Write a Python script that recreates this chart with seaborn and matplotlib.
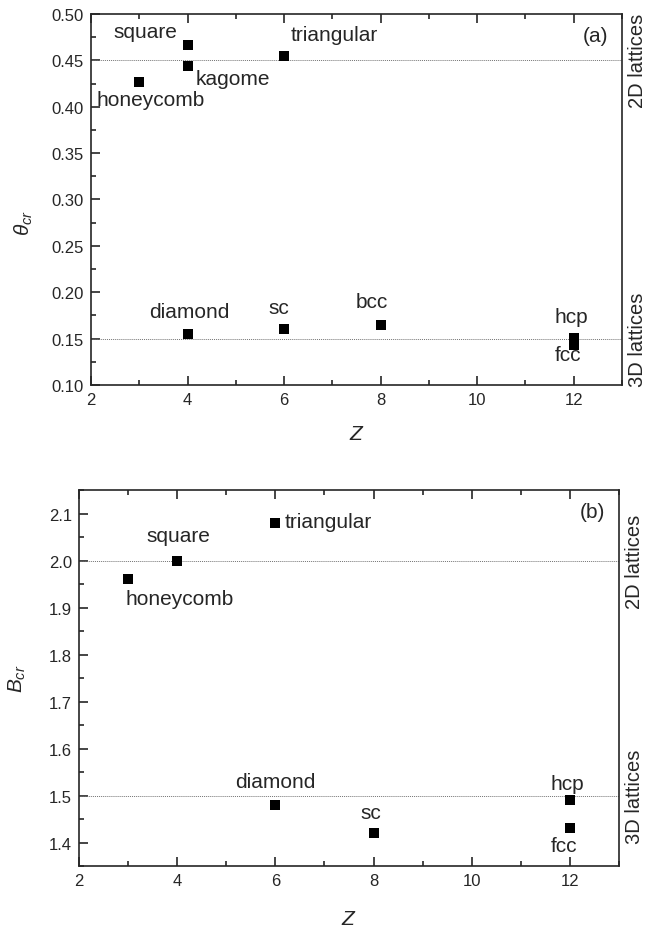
import matplotlib
matplotlib.use("Agg")
import matplotlib.pyplot as plt
import seaborn as sns
import pandas as pd
from matplotlib.ticker import MultipleLocator, FormatStrFormatter

# panel (a): critical coverage vs coordination number
lattices_a = ["honeycomb", "square", "kagome", "triangular", "diamond", "sc", "bcc", "hcp", "fcc"]
z_a = [3, 4, 4, 6, 4, 6, 8, 12, 12]
theta_a = [0.427, 0.466, 0.444, 0.455, 0.155, 0.160, 0.165, 0.151, 0.143]

# panel (b): critical B vs coordination number
lattices_b = ["honeycomb", "square", "triangular", "diamond", "sc", "hcp", "fcc"]
z_b = [3, 4, 6, 6, 8, 12, 12]
b_b = [1.96, 2.00, 2.08, 1.48, 1.42, 1.49, 1.43]

# label offsets in points (dx, dy, ha)
offsets_a = {
    "honeycomb": (8, -13, "center"),
    "square": (-30, 10, "center"),
    "kagome": (33, -9, "center"),
    "triangular": (36, 15, "center"),
    "diamond": (1, 16, "center"),
    "sc": (-4, 16, "center"),
    "bcc": (-6, 17, "center"),
    "hcp": (-2, 15, "center"),
    "fcc": (-4, -7, "center"),
}
offsets_b = {
    "honeycomb": (37, -14, "center"),
    "square": (1, 18, "center"),
    "triangular": (7, 1, "left"),
    "diamond": (0, 17, "center"),
    "sc": (-2, 15, "center"),
    "hcp": (-2, 12, "center"),
    "fcc": (-4, -12, "center"),
}

sns.set_style("ticks")
plt.rcParams["font.family"] = ["Liberation Sans", "DejaVu Sans"]
plt.rcParams["mathtext.fontset"] = "custom"
plt.rcParams["mathtext.it"] = "Liberation Sans:italic"
plt.rcParams["mathtext.rm"] = "Liberation Sans"


def draw_panel(ax, df, ycol, offsets, ylim, ymajor, yminor, ref_lines, tag, ylabel):
    sns.scatterplot(data=df, x="Z", y=ycol, marker="s", color="black", s=42,
                    linewidth=0, ax=ax, legend=False, zorder=3)
    for _, row in df.iterrows():
        dx, dy, ha = offsets[row["lattice"]]
        ax.annotate(row["lattice"], (row["Z"], row[ycol]), xytext=(dx, dy),
                    textcoords="offset points", ha=ha, va="center", fontsize=15)
    for y in ref_lines:
        ax.axhline(y, color="0.45", ls=(0, (1, 1)), lw=0.7, zorder=1)
    ax.set_xlim(2, 13)
    ax.set_ylim(*ylim)
    ax.xaxis.set_major_locator(MultipleLocator(2))
    ax.xaxis.set_minor_locator(MultipleLocator(1))
    ax.yaxis.set_major_locator(MultipleLocator(ymajor))
    ax.yaxis.set_minor_locator(MultipleLocator(yminor))
    ax.tick_params(which="both", direction="in", top=True, right=True, width=1.2,
                   labelsize=12, pad=5)
    ax.tick_params(which="major", length=6.5)
    ax.tick_params(which="minor", length=3.6)
    for sp in ax.spines.values():
        sp.set_linewidth(1.2)
    ax.set_ylabel(ylabel, fontsize=15)
    ax.text(0.95, 0.943, tag, transform=ax.transAxes, ha="center", va="center", fontsize=15)

    # right-side group labels
    ax2 = ax.twinx()
    ax2.set_ylim(*ylim)
    ax2.set_yticks(ref_lines)
    ax2.set_yticklabels(["2D lattices", "3D lattices"], rotation=90, va="center", fontsize=14.5)
    ax2.tick_params(length=0, pad=4)
    for sp in ax2.spines.values():
        sp.set_visible(False)


fig = plt.figure(figsize=(6.47, 9.29), dpi=100)
ax_a = fig.add_axes([0.1406, 0.5845, 0.8207, 0.3994])
ax_b = fig.add_axes([0.1221, 0.0667, 0.8346, 0.4047])

df_a = pd.DataFrame({"lattice": lattices_a, "Z": z_a, "theta": theta_a})
df_b = pd.DataFrame({"lattice": lattices_b, "Z": z_b, "B": b_b})

draw_panel(ax_a, df_a, "theta", offsets_a, (0.10, 0.50), 0.05, 0.025,
           [0.45, 0.15], "(a)", r"$\theta_{cr}$")
draw_panel(ax_b, df_b, "B", offsets_b, (1.35, 2.15), 0.1, 0.05,
           [2.0, 1.5], "(b)", r"$B_{cr}$")

ax_a.yaxis.set_major_formatter(FormatStrFormatter("%.2f"))
ax_b.yaxis.set_major_formatter(FormatStrFormatter("%.1f"))
ax_a.set_xlabel("$Z$", fontsize=15, labelpad=12)
ax_b.set_xlabel("$Z$", fontsize=15, labelpad=15)
ax_a.yaxis.set_label_coords(-0.105, 0.44)
ax_b.yaxis.set_label_coords(-0.094, 0.5)

fig.savefig("out.png", dpi=100)
